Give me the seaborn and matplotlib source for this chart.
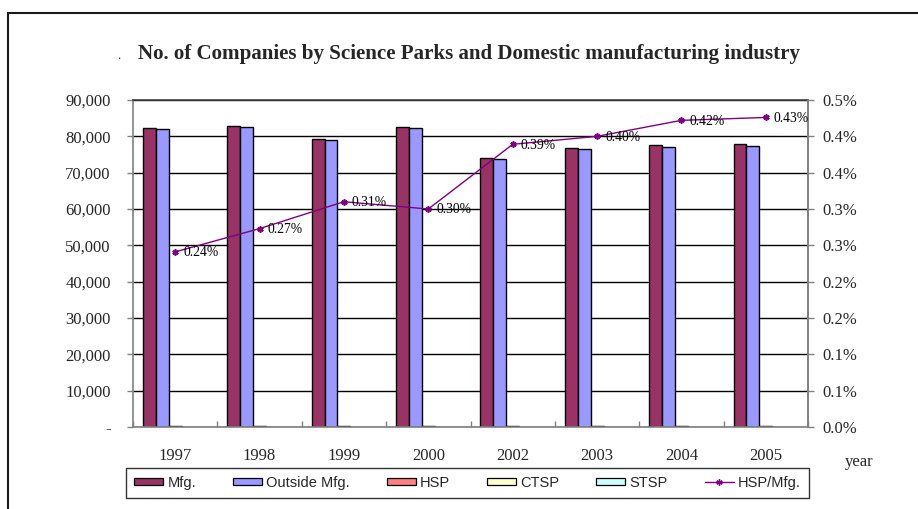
import numpy as np
import pandas as pd
import matplotlib
matplotlib.use("Agg")
import matplotlib.pyplot as plt
import seaborn as sns
from matplotlib.patches import Rectangle, Patch
from matplotlib.lines import Line2D

# ---------------- data ----------------
years = ["1997", "1998", "1999", "2000", "2002", "2003", "2004", "2005"]
mfg = [82200, 82830, 79180, 82470, 74040, 76700, 77530, 77800]
outside_mfg = [82000, 82600, 78940, 82220, 73750, 76390, 77200, 77470]
hsp = [198, 226, 245, 247, 288, 307, 327, 331]
ctsp = [0, 0, 0, 0, 0, 0, 0, 0]
stsp = [0, 0, 0, 0, 0, 0, 0, 0]
hsp_ratio = [0.241, 0.273, 0.310, 0.300, 0.389, 0.400, 0.422, 0.426]  # percent

series_names = ["Mfg.", "Outside Mfg.", "HSP", "CTSP", "STSP"]
line_name = "HSP/Mfg."
left_ticks = [0, 10000, 20000, 30000, 40000, 50000, 60000, 70000, 80000, 90000]
left_labels = ["-", "10,000", "20,000", "30,000", "40,000", "50,000",
               "60,000", "70,000", "80,000", "90,000"]
right_ticks = [0.0, 0.05, 0.10, 0.15, 0.20, 0.25, 0.30, 0.35, 0.40, 0.45]
right_labels = ["0.0%", "0.1%", "0.1%", "0.2%", "0.2%", "0.3%", "0.3%",
                "0.4%", "0.4%", "0.5%"]
title = "No. of Companies by Science Parks and Domestic manufacturing industry"
xlabel_text = "year"

colors = ["#993366", "#9999FF", "#FF8080", "#FFFFCC", "#CCFFFF"]
line_color = "#800080"

# ---------------- style ----------------
sns.set_style("white")
plt.rcParams["font.family"] = ["Liberation Serif", "DejaVu Serif"]

W, H = 918, 509
fig = plt.figure(figsize=(W / 100, H / 100), dpi=100)
fig.patch.set_facecolor("white")

def fx(px):
    return px / W

def fy(py):
    return 1 - py / H

ax = fig.add_axes([fx(133), fy(427), fx(808) - fx(133), fy(100) - fy(427)])

df = pd.DataFrame({
    "year": years * 5,
    "series": sum([[n] * len(years) for n in series_names], []),
    "value": mfg + outside_mfg + hsp + ctsp + stsp,
})

sns.barplot(data=df, x="year", y="value", hue="series", hue_order=series_names,
            order=years, palette=colors, width=0.764, saturation=1,
            edgecolor="black", linewidth=1.0, errorbar=None, legend=False,
            dodge=True, ax=ax)
for p in ax.patches:
    if p.get_height() == 0:
        p.set_linewidth(0)

ax.set_xlim(-0.5, len(years) - 0.5)
ax.set_ylim(0, 90000)
ax.set_yticks(left_ticks)
ax.set_yticklabels(left_labels)
ax.set_axisbelow(True)
ax.yaxis.grid(True, color="black", linewidth=1)
ax.xaxis.grid(False)
ax.set_xlabel("")
ax.set_ylabel("")
for s in ax.spines.values():
    s.set_color("#808080")
    s.set_linewidth(1.2)
ax.spines["top"].set_color("#404040")
ax.tick_params(axis="y", which="major", left=True, length=4, width=1,
               color="#808080", pad=12, labelsize=12)
ax.tick_params(axis="x", which="major", length=0, pad=15, labelsize=12)
ax.set_xticks(np.arange(-0.5, len(years), 1), minor=True)
ax.tick_params(axis="x", which="minor", bottom=True, direction="in", length=4,
               width=1, color="#808080")

ax2 = ax.twinx()
sns.lineplot(x=np.arange(len(years)), y=hsp_ratio, ax=ax2, color=line_color,
             linewidth=1, marker=(6, 2, 0), markersize=4.5, markeredgewidth=1.2,
             markeredgecolor=line_color, legend=False)
ax2.set_xlim(-0.5, len(years) - 0.5)
ax2.set_ylim(0, 0.45)
ax2.set_yticks(right_ticks)
ax2.set_yticklabels(right_labels)
ax2.set_ylabel("")
ax2.tick_params(axis="y", right=True, length=4, width=1, color="#808080",
                pad=6, labelsize=12)
for s in ax2.spines.values():
    s.set_visible(False)
ax2.spines["right"].set_visible(True)
ax2.spines["right"].set_color("#808080")
ax2.spines["right"].set_linewidth(1.2)

for i, v in enumerate(hsp_ratio):
    ax2.annotate(f"{v:.2f}%", (i, v), xytext=(5.8, -0.7),
                 textcoords="offset points", ha="left", va="center",
                 fontsize=9.8, color="black")

# title (fit to reference width)
t = fig.text(fx(468.5), fy(54), title, ha="center", va="center",
             fontsize=13, fontweight="bold")
fig.canvas.draw()
bb = t.get_window_extent(fig.canvas.get_renderer())
t.set_fontsize(13 * 663 / bb.width)
fig.text(fx(119), fy(56), ".", ha="center", va="center", fontsize=9)

fig.text(fx(859), fy(462), xlabel_text, ha="center", va="center", fontsize=12)

# legend
handles = [Patch(facecolor=c, edgecolor="black", linewidth=0.9) for c in colors]
handles.append(Line2D([0], [0], color=line_color, linewidth=1, marker=(6, 2, 0),
                      markersize=4.5, markeredgecolor=line_color))
labels = series_names + [line_name]
leg = fig.legend(handles, labels, loc="upper left",
                 bbox_to_anchor=(fx(126), fy(467.7), fx(809) - fx(126), 0.0001),
                 bbox_transform=fig.transFigure, mode="expand", ncol=6,
                 frameon=True, fancybox=False, edgecolor="black",
                 prop={"family": ["Liberation Sans", "DejaVu Sans"], "size": 10.5},
                 handlelength=2.0, handleheight=0.45, handletextpad=0.3,
                 borderaxespad=0, borderpad=0.55, columnspacing=1.0)
leg.get_frame().set_linewidth(1)

# outer chart frame
fig.add_artist(Rectangle((fx(8), -0.1), 1.2, fy(12.7) + 0.1,
                         transform=fig.transFigure, fill=False,
                         edgecolor="#1a1a1a", linewidth=1.5))

fig.savefig("out.png", dpi=100, facecolor="white")
